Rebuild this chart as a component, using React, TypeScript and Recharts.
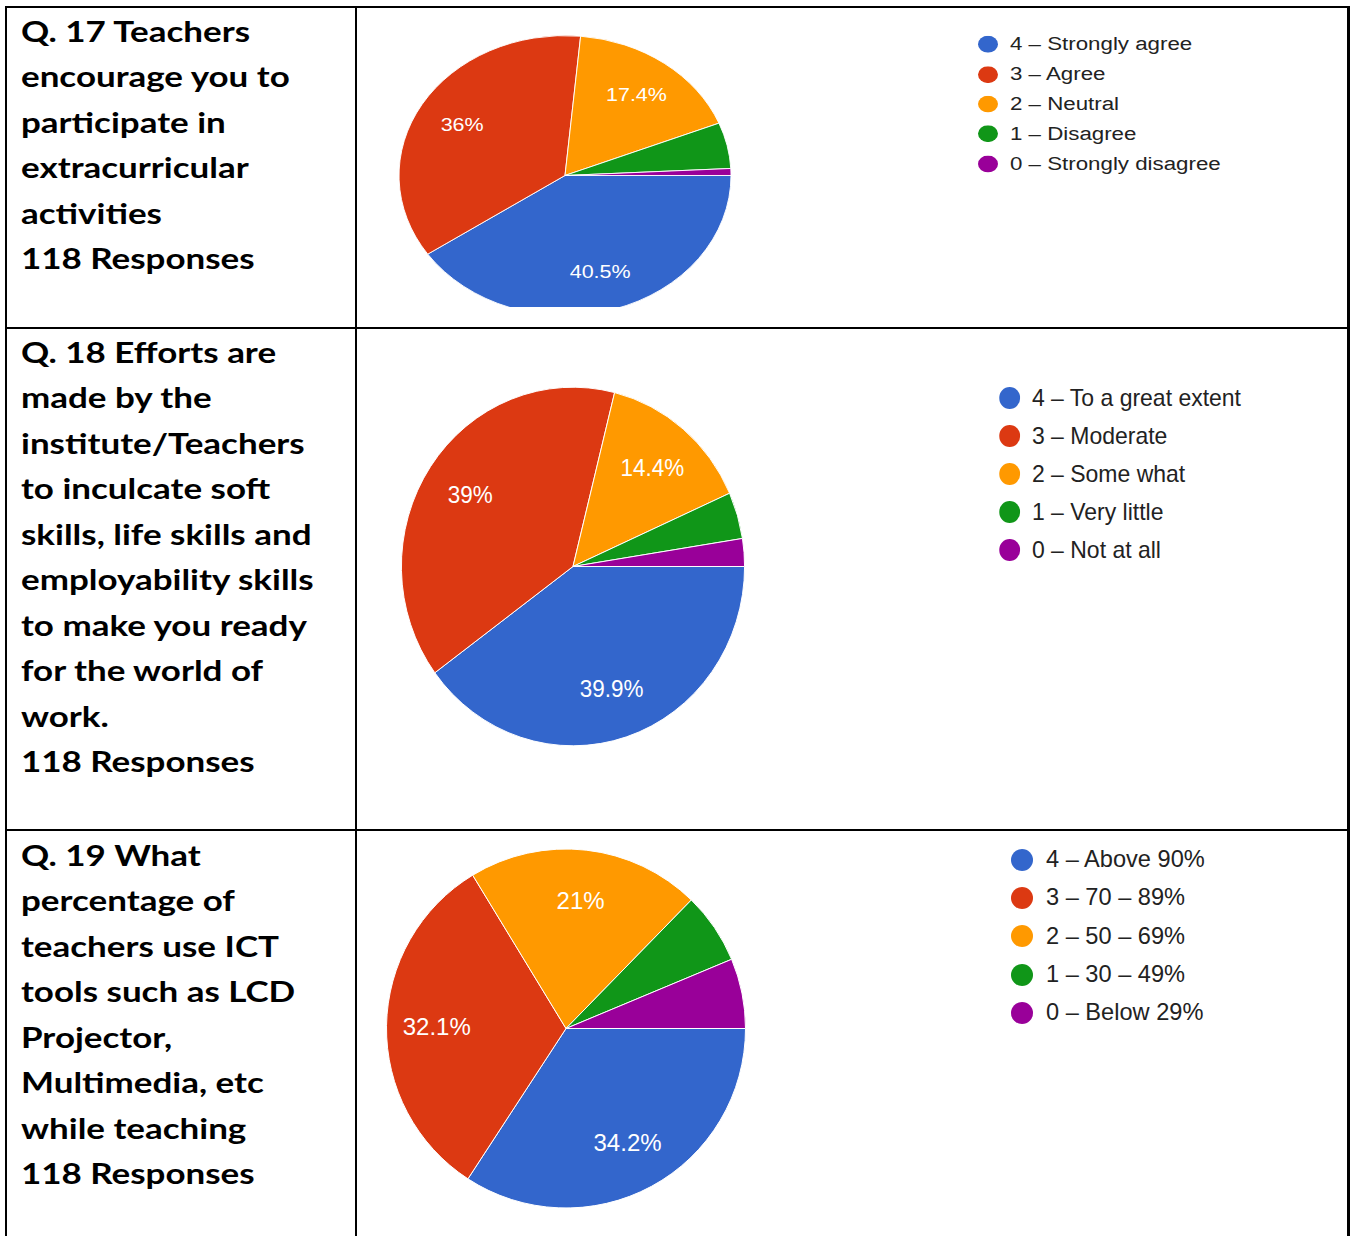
import React from 'react';
import { PieChart, Pie, Cell, Legend } from 'recharts';

const sliceColors = ['#3366cc', '#dc3912', '#ff9900', '#109618', '#990099'];

const q17Labels = ['4 – Strongly agree', '3 – Agree', '2 – Neutral', '1 – Disagree', '0 – Strongly disagree'];
const q17Values = [40.5, 36, 17.4, 5.3, 0.8];

const q18Labels = ['4 – To a great extent', '3 – Moderate', '2 – Some what', '1 – Very little', '0 – Not at all'];
const q18Values = [39.9, 39, 14.4, 4.2, 2.5];

const q19Labels = ['4 – Above 90%', '3 – 70 – 89%', '2 – 50 – 69%', '1 – 30 – 49%', '0 – Below 29%'];
const q19Values = [34.2, 32.1, 21, 6.4, 6.3];

const q17Text = ['Q. 17 Teachers', 'encourage you to', 'participate in', 'extracurricular', 'activities', '118 Responses'];
const q18Text = ['Q. 18 Efforts are', 'made by the', 'institute/Teachers', 'to inculcate soft', 'skills, life skills and', 'employability skills', 'to make you ready', 'for the world of', 'work.', '118 Responses'];
const q19Text = ['Q. 19 What', 'percentage of', 'teachers use ICT', 'tools such as LCD', 'Projector,', 'Multimedia, etc', 'while teaching', '118 Responses'];

const RAD = Math.PI / 180;
const CHART_FONT = '"Liberation Sans", Arial, sans-serif';

type PieProps = {
  labels: string[];
  values: number[];
  box: { left: number; top: number; width: number; height: number };
  sx: number;
  sy: number;
  cx: number;
  cy: number;
  r: number;
  labelSize: number;
  legendX: number;
  legendY: number;
  rowH: number;
  markerR: number;
  textGap: number;
  legendFont: number;
};

function SurveyPie(p: PieProps) {
  const data = p.labels.map((name, i) => ({ name, value: p.values[i] }));
  const w = p.box.width / p.sx;
  const h = p.box.height / p.sy;

  const renderLabel = (props: any) => {
    const { cx, cy, midAngle, outerRadius, percent, value } = props;
    if (percent < 0.1) return null;
    const rr = outerRadius * 0.72;
    const x = cx + rr * Math.cos(-midAngle * RAD);
    const y = cy + rr * Math.sin(-midAngle * RAD);
    return (
      <text
        x={x}
        y={y}
        fill="#ffffff"
        textAnchor="middle"
        dominantBaseline="central"
        style={{ fontSize: p.labelSize, fontFamily: CHART_FONT }}
      >
        {`${value}%`}
      </text>
    );
  };

  const renderLegend = () => (
    <div>
      {p.labels.map((lab, i) => (
        <div key={lab} style={{ display: 'flex', alignItems: 'center', height: p.rowH }}>
          <svg width={p.markerR * 2} height={p.markerR * 2} style={{ flex: 'none' }}>
            <circle cx={p.markerR} cy={p.markerR} r={p.markerR} fill={sliceColors[i]} />
          </svg>
          <span style={{ marginLeft: p.textGap, fontSize: p.legendFont, color: '#222222', fontFamily: CHART_FONT, whiteSpace: 'nowrap', lineHeight: 1 }}>
            {lab}
          </span>
        </div>
      ))}
    </div>
  );

  return (
    <div style={{ position: 'absolute', left: p.box.left, top: p.box.top, width: p.box.width, height: p.box.height, overflow: 'hidden' }}>
      <div style={{ width: w, height: h, transform: `scale(${p.sx}, ${p.sy})`, transformOrigin: '0 0' }}>
        <PieChart width={w} height={h} margin={{ top: 0, right: 0, bottom: 0, left: 0 }}>
          <Pie
            data={data}
            dataKey="value"
            nameKey="name"
            cx={p.cx}
            cy={p.cy}
            outerRadius={p.r}
            startAngle={0}
            endAngle={-360}
            stroke="#ffffff"
            strokeWidth={1}
            labelLine={false}
            label={renderLabel}
            isAnimationActive={false}
          >
            {data.map((d, i) => (
              <Cell key={d.name} fill={sliceColors[i]} />
            ))}
          </Pie>
          <Legend
            layout="vertical"
            align="right"
            verticalAlign="top"
            content={renderLegend}
            wrapperStyle={{ position: 'absolute', left: p.legendX - p.markerR, top: p.legendY - p.rowH / 2, width: 420 }}
          />
        </PieChart>
      </div>
    </div>
  );
}

function TextBlock({ lines, top }: { lines: string[]; top: number }) {
  return (
    <div
      style={{
        position: 'absolute',
        left: 21,
        top,
        transform: 'scaleX(1.205)',
        transformOrigin: '0 0',
        fontFamily: 'Lato, "Noto Sans", sans-serif',
        fontWeight: 700,
        fontSize: 29,
        lineHeight: '45.43px',
        color: '#000',
        whiteSpace: 'nowrap',
      }}
    >
      {lines.map((l, i) => (
        <div key={i}>{l}</div>
      ))}
    </div>
  );
}

const line = (left: number, top: number, width: number, height: number) => (
  <div style={{ position: 'absolute', left, top, width, height, background: '#000' }} />
);

export default function App() {
  return (
    <div style={{ position: 'absolute', left: 0, top: 0, width: 1352, height: 1236, background: '#fff', overflow: 'hidden' }}>
      {line(5, 5.5, 1344, 2)}
      {line(5, 326.5, 1344, 2)}
      {line(5, 829, 1344, 2)}
      {line(5, 5.5, 2, 1231)}
      {line(355, 5.5, 2, 1231)}
      {line(1347, 5.5, 2.5, 1231)}

      <TextBlock lines={q17Text} top={8} />
      <TextBlock lines={q18Text} top={329} />
      <TextBlock lines={q19Text} top={832} />

      <SurveyPie
        labels={q17Labels}
        values={q17Values}
        box={{ left: 357, top: 7.5, width: 990, height: 299.5 }}
        sx={1}
        sy={0.843}
        cx={208}
        cy={198.7}
        r={166}
        labelSize={21.5}
        legendX={631}
        legendY={43.3}
        rowH={35.4}
        markerR={10}
        textGap={12}
        legendFont={22.3}
      />
      <SurveyPie
        labels={q18Labels}
        values={q18Values}
        box={{ left: 357, top: 328.5, width: 990, height: 500.5 }}
        sx={0.957}
        sy={1}
        cx={225.7}
        cy={237.5}
        r={179.3}
        labelSize={23.5}
        legendX={682.3}
        legendY={69.5}
        rowH={38}
        markerR={11}
        textGap={12}
        legendFont={24}
      />
      <SurveyPie
        labels={q19Labels}
        values={q19Values}
        box={{ left: 357, top: 831, width: 990, height: 405 }}
        sx={1}
        sy={1}
        cx={209}
        cy={197.5}
        r={179.5}
        labelSize={24}
        legendX={665}
        legendY={29}
        rowH={38.2}
        markerR={11}
        textGap={13}
        legendFont={23.6}
      />
    </div>
  );
}
